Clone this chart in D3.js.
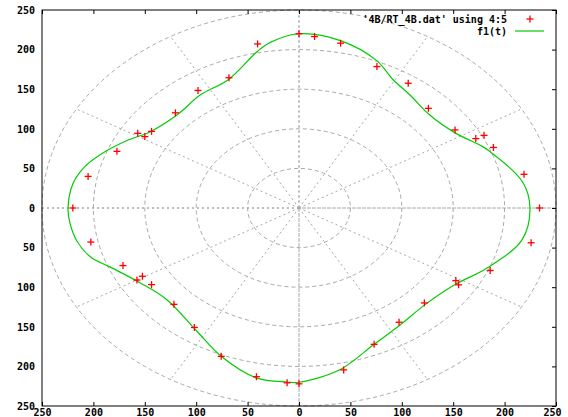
<!DOCTYPE html>
<html>
<head>
<meta charset="utf-8">
<script src="https://cdn.jsdelivr.net/npm/d3@7"></script>
<style>
  html, body { margin: 0; padding: 0; background: #fff; }
  svg { display: block; }
  text { font-family: "DejaVu Sans Mono", monospace; font-weight: bold; font-size: 10px; fill: #000; }
</style>
</head>
<body>
<svg id="chart" width="568" height="417"></svg>
<script>
// ---- data ----
const xTicks = [-250, -200, -150, -100, -50, 0, 50, 100, 150, 200, 250];
const yTicks = [-250, -200, -150, -100, -50, 0, 50, 100, 150, 200, 250];
const gridRadii = [50, 100, 150, 200, 250];
const gridAngles = [0, 30, 60, 90, 120, 150, 180, 210, 240, 270, 300, 330];

// measured points '4B/RT_4B.dat' using 4:5 (theta in degrees, r)
const dataTheta = [90, 86, 79, 67, 56, 45, 33, 27, 27, 22, 11, 0, -11, -23, -31, -32, -44.5, -56, -67, -78,
  -90, -93, -101, -112, -124, -135, -146, -150.5, -150, -157, -168, 180, 169, 158, 149, 149, 146, 135, 123.5, 112.5, 101];
const dataR = [220, 217, 212, 194, 190, 178, 181, 193, 202, 204, 223, 234, 230, 202, 178, 183, 171, 174, 187, 209,
  222, 221, 217, 202, 182, 172, 173, 175, 182, 186, 207, 220, 209, 191, 183, 175, 173, 170, 178, 178, 211];

// fitted curve f1(t) (theta in degrees, r)
const fitTheta = [-175, -169, -163, -158, -148.5, -138, -123, -112, -101, -93, -90, -79, -67, -56.5, -45, -32.5,
  -22.5, -10.5, 0, 8.6, 21.6, 24.3, 32, 42.7, 53, 60.5, 68, 79, 90, 97.6, 101.5, 113, 124, 135, 146.5,
  152.7, 160, 166, 172, 180];
const fitR = [223.6, 220, 212, 198.5, 181, 173, 184, 202, 218.5, 220, 220, 208, 187, 177.5, 173, 180,
  198, 220.6, 224.7, 220, 198, 193, 179, 173, 179, 186, 201, 215, 220, 211, 202, 176, 172, 167, 174,
  187, 203, 215, 222, 224.7];

const legendLabels = ["'4B/RT_4B.dat' using 4:5", "f1(t)"];

// ---- layout ----
const svg = d3.select("#chart");
const L = 42, R = 556, T = 10, B = 406;
const x = d3.scaleLinear().domain([-250, 250]).range([L, R]);
const y = d3.scaleLinear().domain([-250, 250]).range([B, T]);
const rad = d => d * Math.PI / 180;
const px = (t, r) => x(r * Math.cos(rad(t)));
const py = (t, r) => y(r * Math.sin(rad(t)));

const gridColor = "#a8a8a8";
const grid = svg.append("g");

// zero axes (full width/height)
grid.append("line").attr("x1", L).attr("x2", R).attr("y1", y(0)).attr("y2", y(0))
  .attr("stroke", gridColor).attr("stroke-dasharray", "2,3");
grid.append("line").attr("x1", x(0)).attr("x2", x(0)).attr("y1", T).attr("y2", B)
  .attr("stroke", gridColor).attr("stroke-dasharray", "2,3");

// radial lines
grid.selectAll("line.rad").data(gridAngles).enter().append("line").attr("class", "rad")
  .attr("x1", x(0)).attr("y1", y(0))
  .attr("x2", d => px(d, 250)).attr("y2", d => py(d, 250))
  .attr("stroke", gridColor).attr("stroke-dasharray", "2,3");

// circles
grid.selectAll("ellipse").data(gridRadii).enter().append("ellipse")
  .attr("cx", x(0)).attr("cy", y(0))
  .attr("rx", d => x(d) - x(0)).attr("ry", d => y(0) - y(d))
  .attr("fill", "none").attr("stroke", gridColor).attr("stroke-dasharray", "4,3");

// axes
const fmt = d => String(Math.abs(d));
const gB = svg.append("g").attr("transform", `translate(0,${B})`)
  .call(d3.axisBottom(x).tickValues(xTicks).tickFormat(fmt).tickSize(-4).tickPadding(3));
const gT = svg.append("g").attr("transform", `translate(0,${T})`)
  .call(d3.axisTop(x).tickValues(xTicks).tickFormat("").tickSize(-4));
const gL = svg.append("g").attr("transform", `translate(${L},0)`)
  .call(d3.axisLeft(y).tickValues(yTicks).tickFormat(fmt).tickSize(0).tickPadding(7));
const gR = svg.append("g").attr("transform", `translate(${R},0)`)
  .call(d3.axisRight(y).tickValues(yTicks).tickFormat("").tickSize(-4));
[gB, gT, gL, gR].forEach(g => {
  g.select(".domain").remove();
  g.selectAll("line").attr("stroke", "#000");
  g.selectAll("text").attr("fill", "#000")
    .style("font-family", "'DejaVu Sans Mono', monospace").style("font-weight", "bold").style("font-size", "10px");
});
// keep the outermost bottom labels inside the window
gB.selectAll(".tick text").attr("text-anchor", (d, i, n) => i === n.length - 1 ? "end" : "middle")
  .attr("dx", (d, i, n) => i === n.length - 1 ? "0.5em" : 0);

// fitted curve
const fit = fitTheta.map((t, i) => [t, fitR[i]]);
const line = d3.line().x(d => px(d[0], d[1])).y(d => py(d[0], d[1])).curve(d3.curveCatmullRomClosed.alpha(0.5));
svg.append("path").datum(fit).attr("d", line)
  .attr("fill", "none").attr("stroke", "#00cc00").attr("stroke-width", 1.2);

// data points
const pts = dataTheta.map((t, i) => [t, dataR[i]]);
const s = 3.5;
const pg = svg.append("g").attr("stroke", "#ff0000").attr("stroke-width", 1.3);
pts.forEach(d => {
  const cx = px(d[0], d[1]), cy = py(d[0], d[1]);
  pg.append("line").attr("x1", cx - s).attr("x2", cx + s).attr("y1", cy).attr("y2", cy);
  pg.append("line").attr("x1", cx).attr("x2", cx).attr("y1", cy - s).attr("y2", cy + s);
});

// border
svg.append("rect").attr("x", L).attr("y", T).attr("width", R - L).attr("height", B - T)
  .attr("fill", "none").attr("stroke", "#000");

// legend
const lg = svg.append("g");
lg.append("text").attr("x", 507).attr("y", 19).attr("dy", "0.35em").attr("text-anchor", "end").text(legendLabels[0]);
lg.append("line").attr("x1", 530 - s).attr("x2", 530 + s).attr("y1", 19).attr("y2", 19).attr("stroke", "#ff0000").attr("stroke-width", 1.3);
lg.append("line").attr("x1", 530).attr("x2", 530).attr("y1", 19 - s).attr("y2", 19 + s).attr("stroke", "#ff0000").attr("stroke-width", 1.3);
lg.append("text").attr("x", 507).attr("y", 31).attr("dy", "0.35em").attr("text-anchor", "end").text(legendLabels[1]);
lg.append("line").attr("x1", 515).attr("x2", 544).attr("y1", 31).attr("y2", 31).attr("stroke", "#00cc00").attr("stroke-width", 1.2);
</script>
</body>
</html>
